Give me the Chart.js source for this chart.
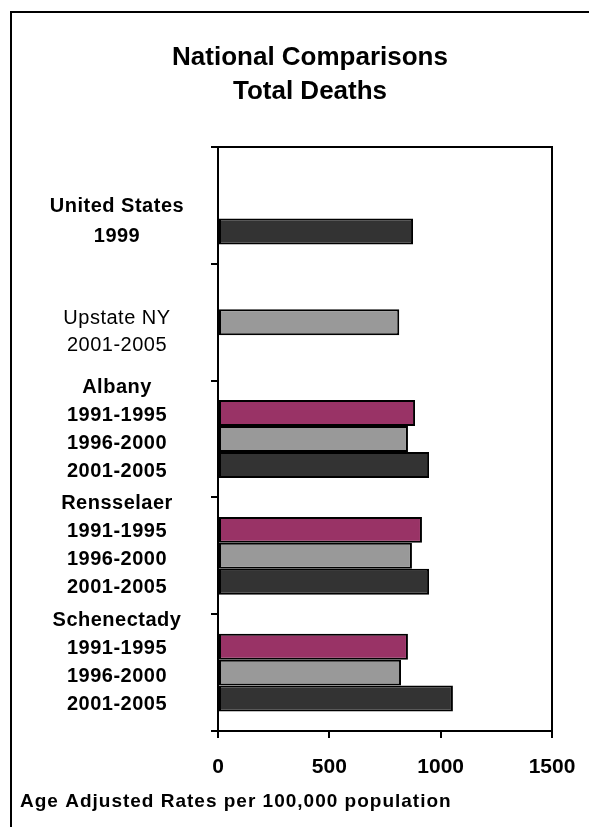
<!DOCTYPE html>
<html>

<head>
    <script src="https://cdn.jsdelivr.net/npm/chart.js@4/dist/chart.umd.min.js"></script>
    <style>
        html, body { margin: 0; padding: 0; overflow: hidden; background: #fff; }
    </style>
</head>

<body>
    <canvas id="deaths" width="610" height="840"></canvas>
    <script>
        // values (age adjusted rates per 100,000)
        var categories = ['United States', 'Upstate NY', 'Albany', 'Rensselaer', 'Schenectady'];
        var periods = ['1991-1995', '1996-2000', '2001-2005'];
        var rate9195 = [null, null, 885, 916, 853];
        var rate9600 = [null, 814, 853, 871, 822];
        var rate0105 = [876, null, 948, 948, 1055];
        var singleYear = ['1999', '2001-2005', null, null, null];
        var xTicks = [0, 500, 1000, 1500];
        var caption = 'Age Adjusted Rates per 100,000 population';

        var family = '"Liberation Sans", Arial, sans-serif';
        var labelX = 117;

        var excelLook = {
            id: 'excelLook',
            afterDraw: function (chart) {
                var ctx = chart.ctx, a = chart.chartArea, y = chart.scales.y;
                ctx.save();
                ctx.strokeStyle = '#000';
                ctx.lineWidth = 2;
                // outer frame, cut off by the page edge like the original
                ctx.strokeRect(11, 12, 700, 900);
                // top and right edge of the plot box
                ctx.beginPath();
                ctx.moveTo(a.left, a.top);
                ctx.lineTo(a.right, a.top);
                ctx.lineTo(a.right, a.bottom);
                ctx.stroke();

                ctx.fillStyle = '#000';
                ctx.textAlign = 'center';
                ctx.textBaseline = 'middle';
                ctx.letterSpacing = '0.5px';
                categories.forEach(function (name, i) {
                    var c = y.getPixelForValue(i);
                    if (singleYear[i]) {
                        var plain = name === 'Upstate NY';
                        ctx.font = (plain ? '' : 'bold ') + '20px ' + family;
                        ctx.fillText(name, labelX, c + (plain ? -4 : 1));
                        ctx.fillText(singleYear[i], labelX, c + (plain ? 23 : 31));
                    } else {
                        ctx.font = 'bold 20px ' + family;
                        ctx.fillText(name, labelX, c - 52);
                        periods.forEach(function (p, d) {
                            ctx.fillText(p, labelX, c + 4 + (d - 1) * 28);
                        });
                    }
                });

                ctx.textAlign = 'left';
                ctx.letterSpacing = '1px';
                ctx.font = 'bold 19px ' + family;
                ctx.fillText(caption, 20, a.bottom + 71);
                ctx.restore();
            }
        };

        var ctx = document.getElementById('deaths').getContext('2d');
        new Chart(ctx, {
            type: 'bar',
            data: {
                labels: categories,
                datasets: [
                    { label: periods[0], data: rate9195, backgroundColor: '#993366' },
                    { label: periods[1], data: rate9600, backgroundColor: '#999999' },
                    { label: periods[2], data: rate0105, backgroundColor: '#333333' }
                ]
            },
            options: {
                indexAxis: 'y',
                responsive: false,
                animation: false,
                layout: { padding: { left: 10, right: 0, top: 0, bottom: 0 } },
                datasets: {
                    bar: {
                        categoryPercentage: 0.667,
                        barPercentage: 1,
                        borderColor: '#000',
                        borderWidth: 2,
                        borderSkipped: false
                    }
                },
                plugins: {
                    legend: { display: false },
                    tooltip: { enabled: false },
                    title: {
                        display: true,
                        text: ['National Comparisons', 'Total Deaths'],
                        color: '#000',
                        font: { family: family, size: 26, weight: 'bold', lineHeight: 1.31 },
                        padding: { top: 41, bottom: 38 }
                    }
                },
                scales: {
                    x: {
                        min: 0,
                        max: 1500,
                        afterBuildTicks: function (s) { s.ticks = xTicks.map(function (v) { return { value: v }; }); },
                        ticks: {
                            color: '#000',
                            font: { family: family, size: 21, weight: 'bold' },
                            padding: 17,
                            callback: function (v) { return String(v); }
                        },
                        grid: { drawOnChartArea: false, color: '#000', tickLength: 7, lineWidth: 2 },
                        border: { color: '#000', width: 2 },
                        afterFit: function (s) { s.height = 109; }
                    },
                    y: {
                        ticks: { display: false },
                        grid: { drawOnChartArea: false, color: '#000', tickLength: 7, lineWidth: 2, offset: true },
                        border: { color: '#000', width: 2 },
                        afterFit: function (s) { s.width = 208; }
                    },
                    yr: {
                        type: 'category',
                        axis: 'y',
                        position: 'right',
                        ticks: { display: false },
                        grid: { display: false },
                        border: { display: false },
                        afterFit: function (s) { s.width = 58; }
                    }
                }
            },
            plugins: [excelLook]
        });
    </script>
</body>

</html>
